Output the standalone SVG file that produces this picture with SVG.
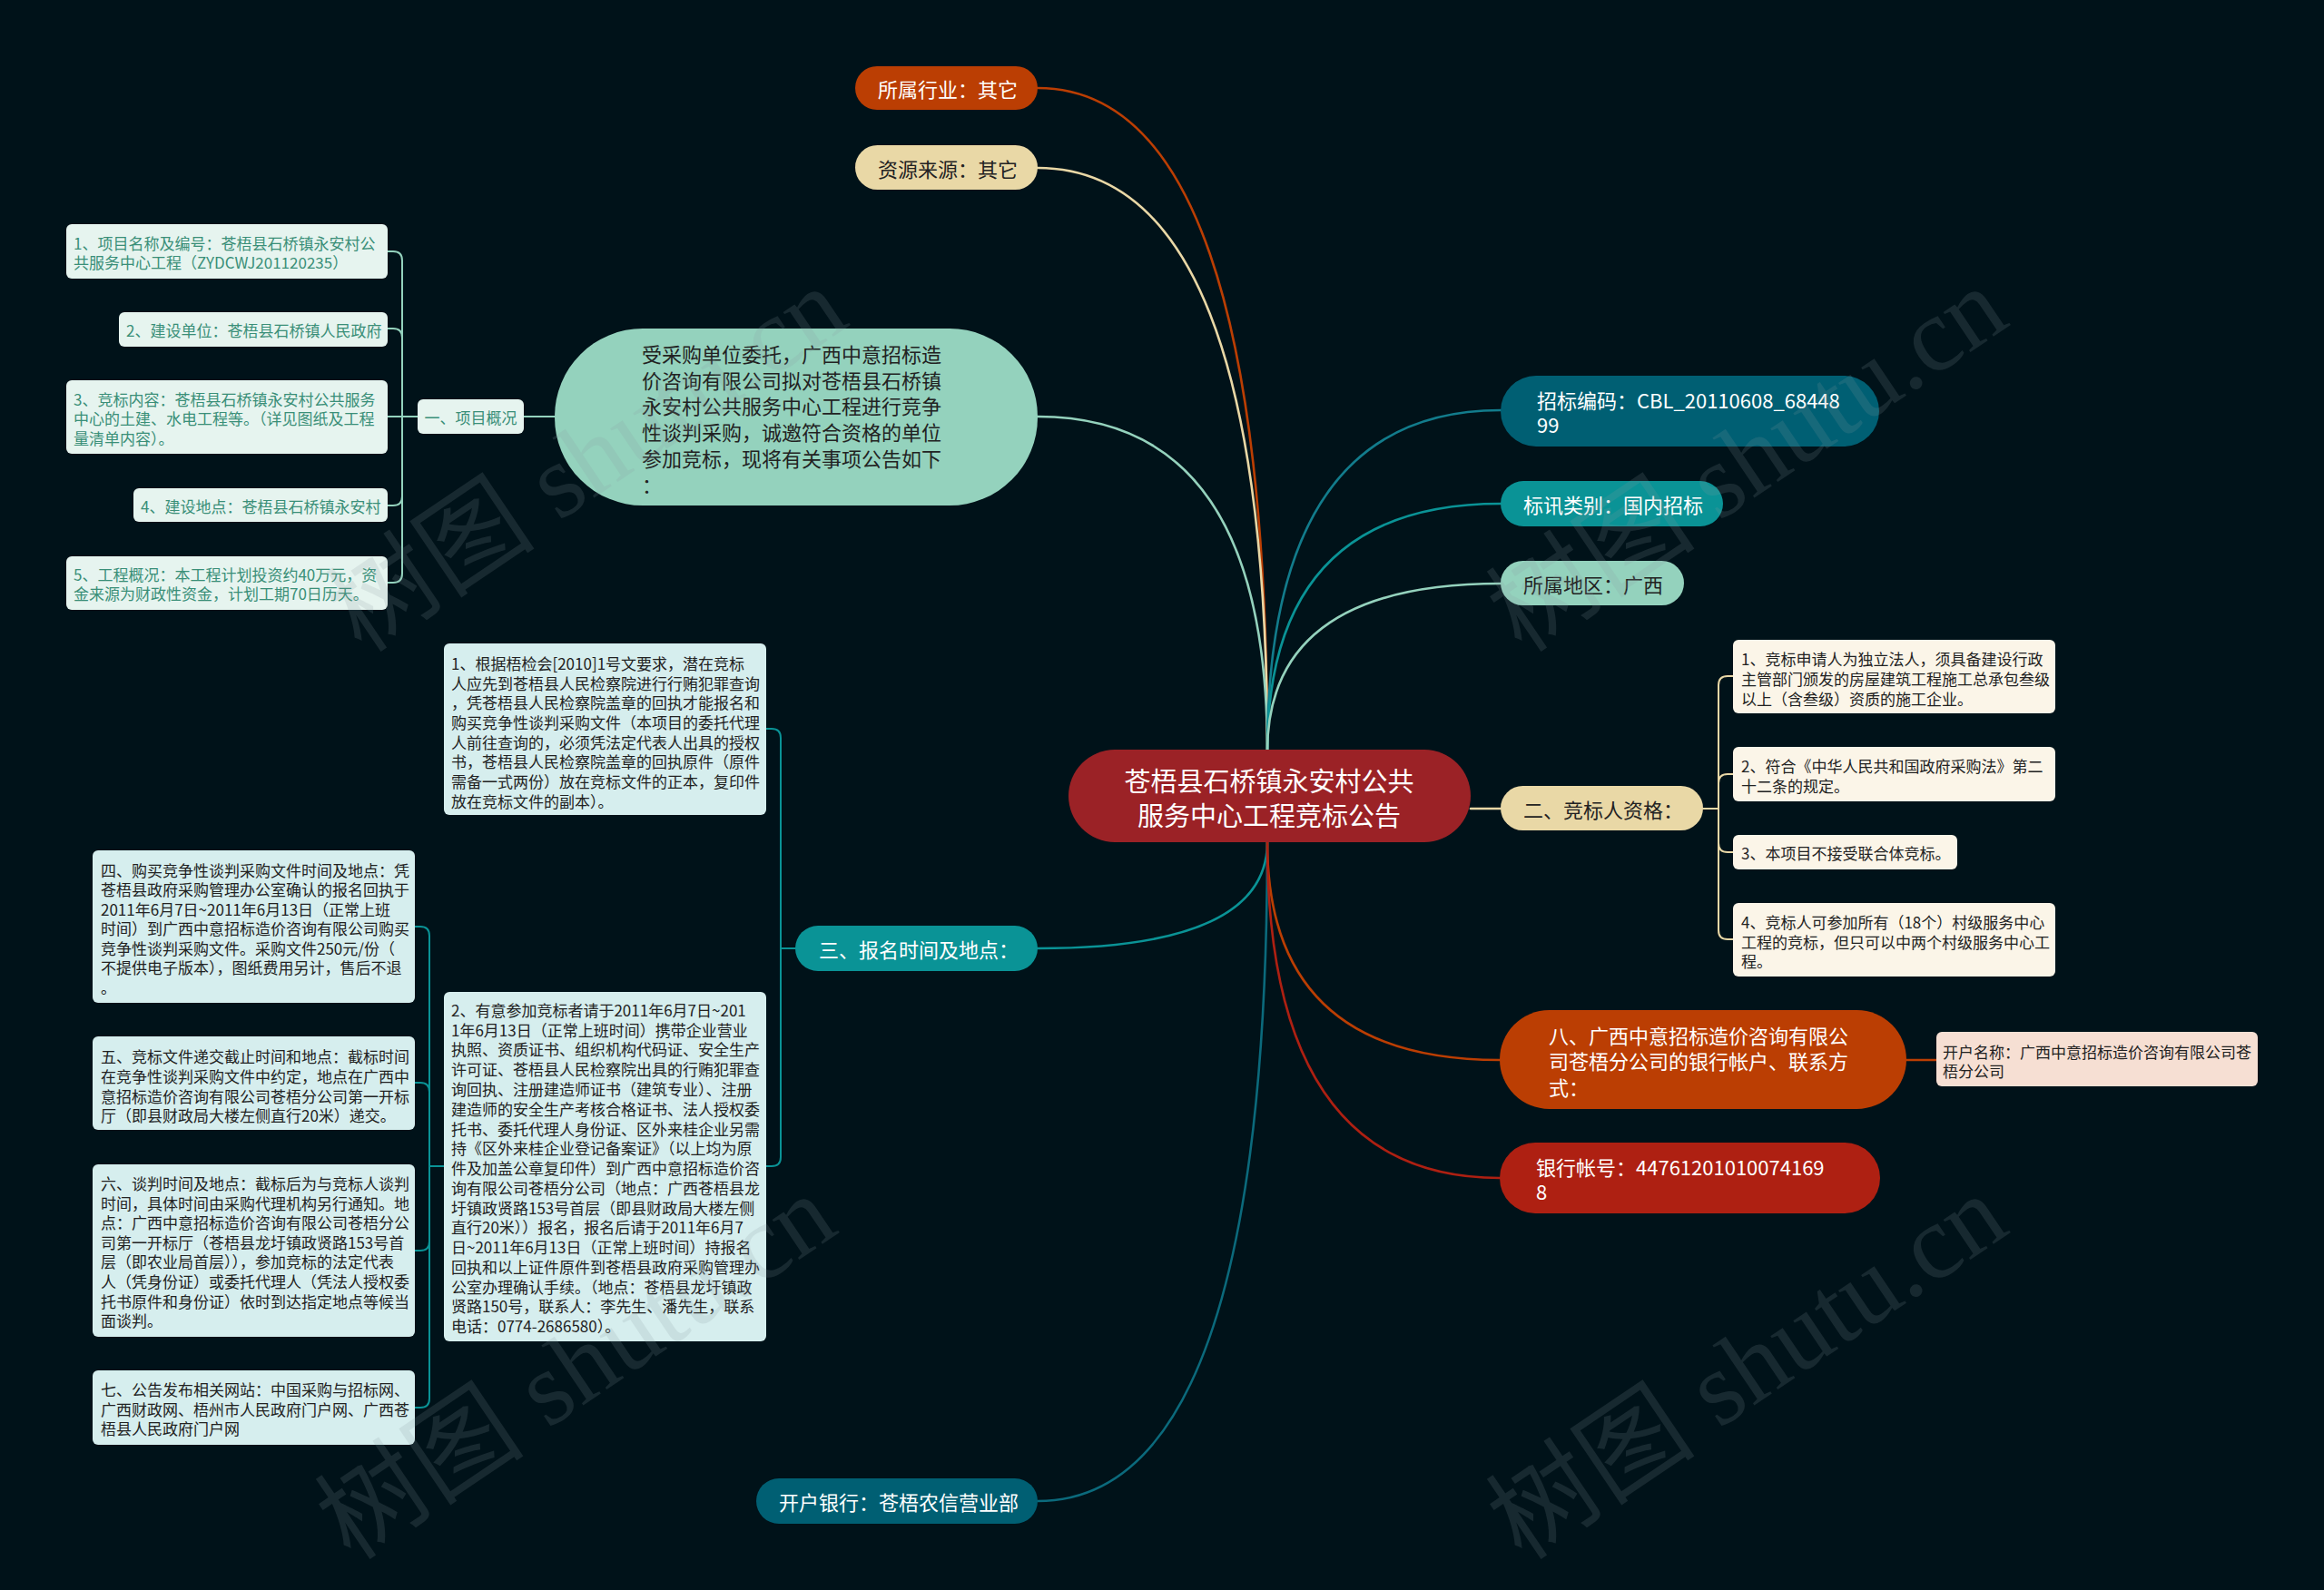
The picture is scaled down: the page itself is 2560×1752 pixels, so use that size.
<svg xmlns="http://www.w3.org/2000/svg" width="2560" height="1752" viewBox="0 0 2560 1752">
<style>
text{font-family:"Noto Sans CJK SC","Noto Sans",sans-serif;dominant-baseline:central}
.t29{font-size:29px}
.t22{font-size:22px}
.t17{font-size:17px}
.w{fill:#ffffff}
.d{fill:#222222}
.g{fill:#3a8f78}
.c{fill:none;stroke-width:2.6;stroke-linecap:round}
.b{fill:none;stroke-width:2;stroke-linecap:round}
.wm{font-family:"Liberation Serif","Noto Sans CJK SC",serif;font-size:116px;fill:#8a9aa0;opacity:0.17;dominant-baseline:alphabetic}
</style>
<rect width="2560" height="1752" fill="#001219"/>

<g id="connectors">
<path class="c" stroke="#bb3e03" d="M1396 828 Q1396 97 1143 97"/>
<path class="c" stroke="#e9d8a6" d="M1396 828 Q1396 185 1143 185"/>
<path class="c" stroke="#94d2bd" d="M1396 828 Q1396 459 1143 459"/>
<path class="c" stroke="#127c8c" d="M1396 828 Q1396 452 1653 452"/>
<path class="c" stroke="#0a9396" d="M1396 828 Q1396 555 1653 555"/>
<path class="c" stroke="#94d2bd" d="M1396 828 Q1396 643 1653 643"/>
<path class="c" stroke="#0a9396" d="M1396 928 Q1396 1045 1143 1045"/>
<path class="c" stroke="#0b6a7c" d="M1396 928 Q1396 1654 1143 1654"/>
<path class="c" stroke="#bb3e03" d="M1396 928 Q1396 1168 1652 1168"/>
<path class="c" stroke="#ae2012" d="M1396 928 Q1396 1298 1652 1298"/>
<path class="c" stroke="#e9d8a6" d="M1620 891 L1653 891"/>
<path class="c" stroke="#bb3e03" d="M2100 1168 L2133 1168"/>
<path class="b" stroke="#94d2bd" d="M611 459 L577 459"/>
<g stroke="#94d2bd" class="b">
<path class="b" d="M460 459 L443 459 L443 287 Q443 277 433 277 L427 277"/>
<path class="b" d="M443 459 L443 372 Q443 362 433 362 L427 362"/>
<path class="b" d="M443 459 L427 459"/>
<path class="b" d="M443 459 L443 547 Q443 557 433 557 L427 557"/>
<path class="b" d="M443 459 L443 632 Q443 642 433 642 L427 642"/>
</g>
<g stroke="#0a9396" class="b">
<path class="b" d="M876 1045 L860 1045 L860 813 Q860 803 850 803 L844 803"/>
<path class="b" d="M860 1045 L860 1275 Q860 1285 850 1285 L844 1285"/>
</g>
<g stroke="#0a9396" class="b">
<path class="b" d="M489 1285 L473 1285 L473 1031 Q473 1021 463 1021 L457 1021"/>
<path class="b" d="M473 1285 L473 1203 Q473 1193 463 1193 L457 1193"/>
<path class="b" d="M473 1285 L473 1368 Q473 1378 463 1378 L457 1378"/>
<path class="b" d="M473 1285 L473 1541 Q473 1551 463 1551 L457 1551"/>
</g>
<g stroke="#e9d8a6" class="b">
<path class="b" d="M1876 891 L1893 891 L1893 755 Q1893 745 1903 745 L1909 745"/>
<path class="b" d="M1893 891 L1893 863 Q1893 853 1903 853 L1909 853"/>
<path class="b" d="M1893 891 L1893 929 Q1893 939 1903 939 L1909 939"/>
<path class="b" d="M1893 891 L1893 1025 Q1893 1035 1903 1035 L1909 1035"/>
</g>
</g>

<g id="center">
<rect x="1177" y="826" width="443" height="102" rx="51" fill="#9b2226"/>
<text class="t29 w" x="1398" y="859" text-anchor="middle">苍梧县石桥镇永安村公共</text>
<text class="t29 w" x="1398" y="897" text-anchor="middle">服务中心工程竞标公告</text>
</g>

<g id="industry">
<rect x="942" y="73" width="201" height="48" rx="24" fill="#bb3e03"/>
<text class="t22 w" x="967" y="97">所属行业：其它</text>
</g>
<g id="source">
<rect x="942" y="160" width="201" height="49" rx="24.5" fill="#e9d8a6"/>
<text class="t22 d" x="967" y="185">资源来源：其它</text>
</g>

<g id="intro">
<rect x="611" y="362" width="532" height="195" rx="97" fill="#94d2bd"/>
<text class="t22 d" x="707" y="389">受采购单位委托，广西中意招标造</text>
<text class="t22 d" x="707" y="418">价咨询有限公司拟对苍梧县石桥镇</text>
<text class="t22 d" x="707" y="446">永安村公共服务中心工程进行竞争</text>
<text class="t22 d" x="707" y="475">性谈判采购，诚邀符合资格的单位</text>
<text class="t22 d" x="707" y="504">参加竞标，现将有关事项公告如下</text>
<text class="t22 d" x="707" y="533">：</text>
</g>

<g id="overview">
<rect x="460" y="440" width="117" height="38" rx="6" fill="#e6f4ef"/>
<text class="t17 g" x="518.5" y="459" text-anchor="middle">一、项目概况</text>
</g>
<g id="ov1">
<rect x="73" y="247" width="354" height="60" rx="6" fill="#e6f4ef"/>
<text class="t17 g" x="81" y="267">1、项目名称及编号：苍梧县石桥镇永安村公</text>
<text class="t17 g" x="81" y="288">共服务中心工程（ZYDCWJ201120235）</text>
</g>
<g id="ov2">
<rect x="131" y="344" width="296" height="38" rx="6" fill="#e6f4ef"/>
<text class="t17 g" x="139" y="363">2、建设单位：苍梧县石桥镇人民政府</text>
</g>
<g id="ov3">
<rect x="73" y="419" width="354" height="81" rx="6" fill="#e6f4ef"/>
<text class="t17 g" x="81" y="439">3、竞标内容：苍梧县石桥镇永安村公共服务</text>
<text class="t17 g" x="81" y="460">中心的土建、水电工程等。（详见图纸及工程</text>
<text class="t17 g" x="81" y="482">量清单内容）。</text>
</g>
<g id="ov4">
<rect x="147" y="538" width="280" height="37" rx="6" fill="#e6f4ef"/>
<text class="t17 g" x="155" y="557">4、建设地点：苍梧县石桥镇永安村</text>
</g>
<g id="ov5">
<rect x="73" y="613" width="354" height="59" rx="6" fill="#e6f4ef"/>
<text class="t17 g" x="81" y="632">5、工程概况：本工程计划投资约40万元，资</text>
<text class="t17 g" x="81" y="653">金来源为财政性资金，计划工期70日历天。</text>
</g>

<g id="code">
<rect x="1653" y="414" width="417" height="78" rx="39" fill="#005f73"/>
<text class="t22 w" x="1693" y="440">招标编码：CBL_20110608_68448</text>
<text class="t22 w" x="1693" y="467">99</text>
</g>
<g id="category">
<rect x="1653" y="530" width="245" height="50" rx="25" fill="#0a9396"/>
<text class="t22 w" x="1678" y="555">标讯类别：国内招标</text>
</g>
<g id="region">
<rect x="1653" y="618" width="202" height="49" rx="24.5" fill="#94d2bd"/>
<text class="t22 d" x="1678" y="643">所属地区：广西</text>
</g>

<g id="qual">
<rect x="1653" y="866" width="223" height="49" rx="24.5" fill="#e9d8a6"/>
<text class="t22 d" x="1678" y="891">二、竞标人资格：</text>
</g>
<g id="q1">
<rect x="1909" y="705" width="355" height="81" rx="6" fill="#fbf5e8"/>
<text class="t17 d" x="1918" y="725">1、竞标申请人为独立法人，须具备建设行政</text>
<text class="t17 d" x="1918" y="747">主管部门颁发的房屋建筑工程施工总承包叁级</text>
<text class="t17 d" x="1918" y="769">以上（含叁级）资质的施工企业。</text>
</g>
<g id="q2">
<rect x="1909" y="823" width="355" height="60" rx="6" fill="#fbf5e8"/>
<text class="t17 d" x="1918" y="843">2、符合《中华人民共和国政府采购法》第二</text>
<text class="t17 d" x="1918" y="865">十二条的规定。</text>
</g>
<g id="q3">
<rect x="1909" y="920" width="247" height="38" rx="6" fill="#fbf5e8"/>
<text class="t17 d" x="1918" y="939">3、本项目不接受联合体竞标。</text>
</g>
<g id="q4">
<rect x="1909" y="995" width="355" height="81" rx="6" fill="#fbf5e8"/>
<text class="t17 d" x="1918" y="1015">4、竞标人可参加所有（18个）村级服务中心</text>
<text class="t17 d" x="1918" y="1037">工程的竞标，但只可以中两个村级服务中心工</text>
<text class="t17 d" x="1918" y="1058">程。</text>
</g>

<g id="bank-info">
<rect x="1652" y="1113" width="448" height="109" rx="54.5" fill="#bb3e03"/>
<text class="t22 w" x="1706" y="1140">八、广西中意招标造价咨询有限公</text>
<text class="t22 w" x="1706" y="1168">司苍梧分公司的银行帐户、联系方</text>
<text class="t22 w" x="1706" y="1197">式：</text>
</g>
<g id="account-name">
<rect x="2133" y="1137" width="354" height="60" rx="6" fill="#f6dfd3"/>
<text class="t17 d" x="2140" y="1158">开户名称：广西中意招标造价咨询有限公司苍</text>
<text class="t17 d" x="2140" y="1179">梧分公司</text>
</g>
<g id="account-no">
<rect x="1652" y="1259" width="419" height="78" rx="39" fill="#ae2012"/>
<text class="t22 w" x="1692" y="1285">银行帐号：44761201010074169</text>
<text class="t22 w" x="1692" y="1312">8</text>
</g>

<g id="signup">
<rect x="876" y="1020" width="267" height="50" rx="25" fill="#0a9396"/>
<text class="t22 w" x="902" y="1045">三、报名时间及地点：</text>
</g>
<g id="bank">
<rect x="833" y="1629" width="310" height="50" rx="25" fill="#005f73"/>
<text class="t22 w" x="858" y="1654">开户银行：苍梧农信营业部</text>
</g>

<g id="s1">
<rect x="489" y="709" width="355" height="189" rx="6" fill="#d6eeee"/>
<text class="t17 d" x="497" y="730">1、根据梧检会[2010]1号文要求，潜在竞标</text>
<text class="t17 d" x="497" y="752">人应先到苍梧县人民检察院进行行贿犯罪查询</text>
<text class="t17 d" x="497" y="773">，凭苍梧县人民检察院盖章的回执才能报名和</text>
<text class="t17 d" x="497" y="795">购买竞争性谈判采购文件（本项目的委托代理</text>
<text class="t17 d" x="497" y="817">人前往查询的，必须凭法定代表人出具的授权</text>
<text class="t17 d" x="497" y="838">书，苍梧县人民检察院盖章的回执原件（原件</text>
<text class="t17 d" x="497" y="860">需备一式两份）放在竞标文件的正本，复印件</text>
<text class="t17 d" x="497" y="882">放在竞标文件的副本）。</text>
</g>
<g id="s2">
<rect x="489" y="1093" width="355" height="385" rx="6" fill="#d6eeee"/>
<text class="t17 d" x="497" y="1112">2、有意参加竞标者请于2011年6月7日~201</text>
<text class="t17 d" x="497" y="1134">1年6月13日（正常上班时间）携带企业营业</text>
<text class="t17 d" x="497" y="1155">执照、资质证书、组织机构代码证、安全生产</text>
<text class="t17 d" x="497" y="1177">许可证、苍梧县人民检察院出具的行贿犯罪查</text>
<text class="t17 d" x="497" y="1199">询回执、注册建造师证书（建筑专业）、注册</text>
<text class="t17 d" x="497" y="1221">建造师的安全生产考核合格证书、法人授权委</text>
<text class="t17 d" x="497" y="1243">托书、委托代理人身份证、区外来桂企业另需</text>
<text class="t17 d" x="497" y="1264">持《区外来桂企业登记备案证》（以上均为原</text>
<text class="t17 d" x="497" y="1286">件及加盖公章复印件）到广西中意招标造价咨</text>
<text class="t17 d" x="497" y="1308">询有限公司苍梧分公司（地点：广西苍梧县龙</text>
<text class="t17 d" x="497" y="1330">圩镇政贤路153号首层（即县财政局大楼左侧</text>
<text class="t17 d" x="497" y="1351">直行20米））报名，报名后请于2011年6月7</text>
<text class="t17 d" x="497" y="1373">日~2011年6月13日（正常上班时间）持报名</text>
<text class="t17 d" x="497" y="1395">回执和以上证件原件到苍梧县政府采购管理办</text>
<text class="t17 d" x="497" y="1417">公室办理确认手续。（地点：苍梧县龙圩镇政</text>
<text class="t17 d" x="497" y="1438">贤路150号，联系人：李先生、潘先生，联系</text>
<text class="t17 d" x="497" y="1460">电话：0774-2686580）。</text>
</g>

<g id="n4">
<rect x="102" y="937" width="355" height="168" rx="6" fill="#d6eeee"/>
<text class="t17 d" x="111" y="958">四、购买竞争性谈判采购文件时间及地点：凭</text>
<text class="t17 d" x="111" y="979">苍梧县政府采购管理办公室确认的报名回执于</text>
<text class="t17 d" x="111" y="1001">2011年6月7日~2011年6月13日（正常上班</text>
<text class="t17 d" x="111" y="1022">时间）到广西中意招标造价咨询有限公司购买</text>
<text class="t17 d" x="111" y="1044">竞争性谈判采购文件。采购文件250元/份（</text>
<text class="t17 d" x="111" y="1065">不提供电子版本），图纸费用另计，售后不退</text>
<text class="t17 d" x="111" y="1087">。</text>
</g>
<g id="n5">
<rect x="102" y="1142" width="355" height="103" rx="6" fill="#d6eeee"/>
<text class="t17 d" x="111" y="1163">五、竞标文件递交截止时间和地点：截标时间</text>
<text class="t17 d" x="111" y="1185">在竞争性谈判采购文件中约定，地点在广西中</text>
<text class="t17 d" x="111" y="1207">意招标造价咨询有限公司苍梧分公司第一开标</text>
<text class="t17 d" x="111" y="1228">厅（即县财政局大楼左侧直行20米）递交。</text>
</g>
<g id="n6">
<rect x="102" y="1283" width="355" height="190" rx="6" fill="#d6eeee"/>
<text class="t17 d" x="111" y="1303">六、谈判时间及地点：截标后为与竞标人谈判</text>
<text class="t17 d" x="111" y="1325">时间，具体时间由采购代理机构另行通知。地</text>
<text class="t17 d" x="111" y="1346">点：广西中意招标造价咨询有限公司苍梧分公</text>
<text class="t17 d" x="111" y="1368">司第一开标厅（苍梧县龙圩镇政贤路153号首</text>
<text class="t17 d" x="111" y="1389">层（即农业局首层）），参加竞标的法定代表</text>
<text class="t17 d" x="111" y="1411">人（凭身份证）或委托代理人（凭法人授权委</text>
<text class="t17 d" x="111" y="1433">托书原件和身份证）依时到达指定地点等候当</text>
<text class="t17 d" x="111" y="1454">面谈判。</text>
</g>
<g id="n7">
<rect x="102" y="1510" width="355" height="82" rx="6" fill="#d6eeee"/>
<text class="t17 d" x="111" y="1530">七、公告发布相关网站：中国采购与招标网、</text>
<text class="t17 d" x="111" y="1552">广西财政网、梧州市人民政府门户网、广西苍</text>
<text class="t17 d" x="111" y="1573">梧县人民政府门户网</text>
</g>

<g id="watermarks">
<text class="wm" x="649" y="545" text-anchor="middle" transform="rotate(-34 649 510)">树图 shutu.cn</text>
<text class="wm" x="1927" y="545" text-anchor="middle" transform="rotate(-34 1927 510)">树图 shutu.cn</text>
<text class="wm" x="637" y="1545" text-anchor="middle" transform="rotate(-34 637 1510)">树图 shutu.cn</text>
<text class="wm" x="1927" y="1545" text-anchor="middle" transform="rotate(-34 1927 1510)">树图 shutu.cn</text>
</g>
</svg>
